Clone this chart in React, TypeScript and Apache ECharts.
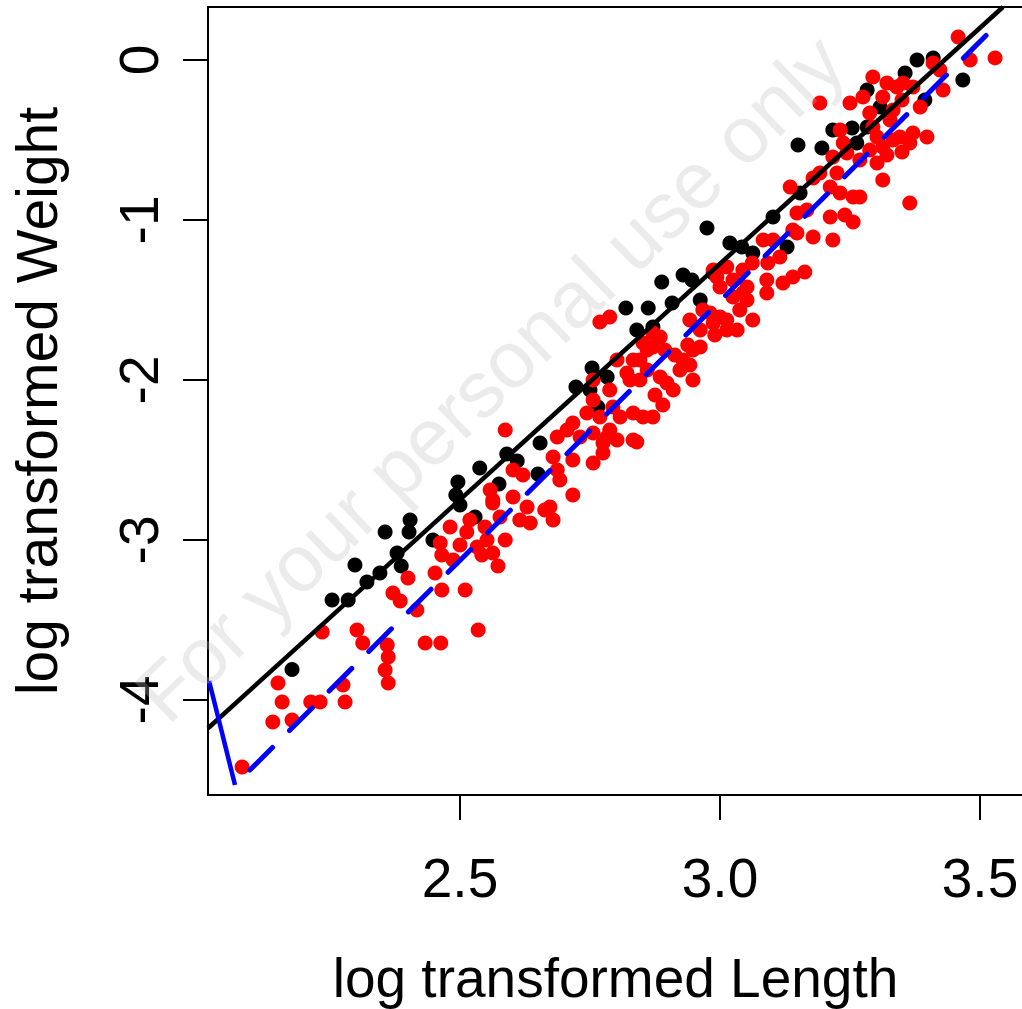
import React, { useEffect, useRef } from "react";
import * as echarts from "echarts";

// Axis extents and tick values
const xRange = [2.0154, 3.5827];
const yRange = [-4.594, 0.331];
const xTicks = [2.5, 3.0, 3.5];
const yTicks = [0, -1, -2, -3, -4];

// Black points (log Length, log Weight)
const blackPoints: [number, number][] = [
  [2.177, -3.81], [2.254, -3.375], [2.285, -3.375], [2.298, -3.156], [2.321, -3.263],
  [2.346, -3.206], [2.356, -2.95], [2.379, -3.081], [2.387, -3.163], [2.404, -2.875],
  [2.402, -2.95], [2.448, -3.0], [2.496, -2.638], [2.492, -2.719], [2.5, -2.781],
  [2.529, -2.856], [2.538, -2.55], [2.575, -2.65], [2.59, -2.463], [2.61, -2.506],
  [2.654, -2.394], [2.65, -2.588], [2.723, -2.044], [2.754, -1.925], [2.75, -2.063],
  [2.765, -2.169], [2.783, -1.981], [2.819, -1.55], [2.862, -1.55], [2.888, -1.388],
  [2.908, -1.519], [2.929, -1.344], [2.946, -1.375], [2.962, -1.5], [2.84, -1.688],
  [2.871, -1.669], [2.975, -1.05], [2.987, -1.331], [3.019, -1.144], [3.042, -1.169],
  [3.063, -1.206], [3.102, -0.981], [3.129, -1.169], [3.15, -0.531], [3.196, -0.55],
  [3.154, -0.831], [3.217, -0.438], [3.254, -0.425], [3.283, -0.419], [3.263, -0.519],
  [3.283, -0.188], [3.308, -0.294], [3.356, -0.081], [3.379, 0.0], [3.41, 0.013],
  [3.394, -0.25], [3.467, -0.125],
];

// Red points (log Length, log Weight)
const redPoints: [number, number][] = [
  [2.081, -4.419], [2.15, -3.894], [2.158, -4.013], [2.14, -4.138], [2.177, -4.125],
  [2.213, -4.013], [2.231, -4.013], [2.235, -3.575], [2.275, -3.906], [2.279, -4.013],
  [2.302, -3.563], [2.313, -3.644], [2.36, -3.656], [2.362, -3.731], [2.356, -3.813],
  [2.362, -3.894], [2.371, -3.331], [2.385, -3.381], [2.4, -3.238], [2.417, -3.438],
  [2.433, -3.644], [2.463, -3.644], [2.465, -3.313], [2.51, -3.313], [2.535, -3.563],
  [2.452, -3.206], [2.462, -3.019], [2.481, -2.919], [2.465, -3.094], [2.487, -3.125],
  [2.5, -3.031], [2.513, -2.95], [2.519, -2.875], [2.533, -3.044], [2.548, -2.919],
  [2.552, -3.0], [2.542, -3.094], [2.563, -3.081], [2.573, -3.163], [2.587, -3.0],
  [2.615, -2.875], [2.563, -2.75], [2.587, -2.313], [2.558, -2.688], [2.563, -2.769],
  [2.577, -2.856], [2.602, -2.731], [2.602, -2.563], [2.621, -2.594], [2.629, -2.794],
  [2.635, -2.894], [2.663, -2.813], [2.692, -2.625], [2.687, -2.563], [2.679, -2.481],
  [2.673, -2.794], [2.679, -2.875], [2.717, -2.719], [2.717, -2.5], [2.706, -2.313],
  [2.756, -2.331], [2.756, -2.519], [2.775, -2.394], [2.788, -2.313], [2.802, -2.375],
  [2.808, -2.231], [2.833, -2.206], [2.84, -2.388], [2.852, -2.231], [2.871, -2.231],
  [2.744, -2.206], [2.756, -2.125], [2.788, -2.063], [2.827, -2.0], [2.794, -2.169],
  [2.687, -2.356], [2.717, -2.269], [2.731, -2.356], [2.769, -2.231], [2.783, -2.356],
  [2.775, -2.456], [2.833, -2.375], [2.756, -2.0], [2.846, -2.0], [2.821, -1.956],
  [2.802, -1.875], [2.846, -1.875], [2.86, -1.813], [2.86, -1.938], [2.885, -1.981],
  [2.898, -2.019], [2.91, -2.063], [2.923, -1.938], [2.929, -1.875], [2.871, -1.794],
  [2.885, -1.731], [2.769, -1.638], [2.788, -1.606], [2.962, -1.794], [2.981, -1.581],
  [2.987, -1.644], [3.0, -1.606], [3.013, -1.688], [3.033, -1.688], [2.994, -1.356],
  [3.0, -1.419], [3.025, -1.375], [3.025, -1.481], [3.044, -1.313], [2.833, -1.875],
  [2.852, -1.769], [2.871, -1.706], [2.967, -1.563], [3.013, -1.625], [3.052, -1.5],
  [3.063, -1.625], [3.052, -1.419], [3.013, -1.294], [2.987, -1.313], [3.09, -1.375],
  [3.121, -1.394], [3.14, -1.356], [3.163, -1.325], [3.09, -1.456], [3.092, -1.269],
  [2.948, -1.813], [3.102, -1.125], [3.115, -1.231], [3.148, -1.081], [3.179, -1.106],
  [3.212, -0.981], [3.217, -1.125], [3.231, -0.831], [3.256, -0.856], [3.269, -0.856],
  [3.256, -1.013], [3.225, -0.706], [3.212, -0.794], [3.167, -0.938], [3.135, -0.794],
  [3.192, -0.706], [3.217, -0.606], [3.244, -0.581], [3.269, -0.625], [3.313, -0.75],
  [3.302, -0.644], [3.313, -0.544], [3.333, -0.5], [3.35, -0.575], [3.371, -0.456],
  [3.398, -0.481], [3.35, -0.25], [3.333, -0.313], [3.385, -0.294], [3.294, -0.419],
  [3.321, -0.144], [3.352, -0.144], [3.313, -0.231], [3.294, -0.106], [3.371, -0.169],
  [3.25, -0.269], [3.275, -0.231], [3.192, -0.269], [3.365, -0.894], [3.41, -0.019],
  [3.423, -0.063], [3.429, -0.188], [3.458, 0.144], [3.481, 0.0], [3.529, 0.013],
  [3.34, -0.169], [3.365, -0.519], [3.179, -0.738], [3.237, -0.519], [3.231, -0.438],
  [3.288, -0.331], [3.327, -0.375], [3.346, -0.481], [3.302, -0.481], [3.148, -0.956],
  [3.24, -0.969], [3.14, -1.063], [3.083, -1.125], [3.062, -1.269], [3.044, -1.456],
  [2.875, -2.094], [2.89, -2.156], [2.942, -1.906], [2.948, -2.0], [2.913, -1.844],
  [2.894, -1.813], [2.938, -1.781], [2.962, -1.688], [2.99, -1.719], [2.942, -1.625],
  [3.038, -1.563], [3.321, -0.594], [3.288, -0.563],
];

// Fitted lines (endpoints in data units)
const blackFitLine: [number, number][] = [[2.0154, -4.177], [3.5442, 0.331]];
const blueSolidLine: [number, number][] = [[2.0175, -3.882], [2.0673, -4.531]];
const blueDashedLine: [number, number][] = [[2.0673, -4.531], [3.5321, 0.219]];

const FONT = '"Liberation Sans", Arial, Helvetica, sans-serif';

export default function App() {
  const ref = useRef<HTMLDivElement>(null);
  useEffect(() => {
    if (!ref.current) return;
    const chart = echarts.init(ref.current, null, { renderer: "svg" });
    chart.setOption({
      animation: false,
      backgroundColor: "#ffffff",
      grid: {
        left: 208,
        top: 7,
        width: 815,
        height: 788,
        show: true,
        borderColor: "#000",
        borderWidth: 2,
        backgroundColor: "transparent",
        containLabel: false,
        outerBoundsMode: "none",
      },
      xAxis: {
        type: "value",
        min: xRange[0],
        max: xRange[1],
        name: "log transformed Length",
        nameLocation: "middle",
        nameGap: 155,
        nameTextStyle: { fontFamily: FONT, fontSize: 55, color: "#000" },
        axisLine: { show: true, onZero: false, lineStyle: { color: "#000", width: 2 } },
        axisTick: { show: true, inside: false, length: 25, customValues: xTicks, lineStyle: { color: "#000", width: 2 } },
        axisLabel: {
          customValues: xTicks,
          margin: 55,
          fontFamily: FONT,
          fontSize: 55,
          color: "#000",
          formatter: (v: number) => v.toFixed(1),
        },
        splitLine: { show: false },
      },
      yAxis: {
        type: "value",
        min: yRange[0],
        max: yRange[1],
        name: "log transformed Weight",
        nameLocation: "middle",
        nameRotate: 90,
        nameGap: 143,
        nameTextStyle: { fontFamily: FONT, fontSize: 57, color: "#000" },
        axisLine: { show: true, onZero: false, lineStyle: { color: "#000", width: 2 } },
        axisTick: { show: true, inside: false, length: 25, customValues: yTicks, lineStyle: { color: "#000", width: 2 } },
        axisLabel: {
          customValues: yTicks,
          rotate: 90,
          margin: 42,
          fontFamily: FONT,
          fontSize: 55,
          color: "#000",
          formatter: (v: number) => String(Math.round(v)),
        },
        splitLine: { show: false },
      },
      series: [
        {
          type: "scatter",
          data: blackPoints,
          symbol: "circle",
          symbolSize: 15,
          itemStyle: { color: "#000000", opacity: 1 },
          silent: true,
          z: 2,
        },
        {
          type: "scatter",
          data: redPoints,
          symbol: "circle",
          symbolSize: 15,
          itemStyle: { color: "#ff0000", opacity: 1 },
          silent: true,
          z: 3,
        },
        {
          type: "line",
          data: blackFitLine,
          showSymbol: false,
          symbol: "none",
          lineStyle: { color: "#000000", width: 4.5 },
          silent: true,
          z: 4,
        },
        {
          type: "line",
          data: blueSolidLine,
          showSymbol: false,
          symbol: "none",
          lineStyle: { color: "#0000ff", width: 4.5, cap: "butt" },
          silent: true,
          z: 5,
        },
        {
          type: "line",
          data: blueDashedLine,
          showSymbol: false,
          symbol: "none",
          lineStyle: { color: "#0000ff", width: 5, type: [32, 24], dashOffset: 35, cap: "round" },
          silent: true,
          z: 5,
        },
      ],
      graphic: [
        {
          type: "text",
          x: 490,
          y: 378,
          rotation: 0.767,
          z: 100,
          silent: true,
          style: {
            text: "For your personal use only",
            font: `80px ${FONT}`,
            fill: "rgba(190,190,190,0.3)",
            align: "center",
            verticalAlign: "middle",
            textAlign: "center",
            textVerticalAlign: "middle",
          },
        },
      ],
    });
    return () => chart.dispose();
  }, []);
  return (
    <div
      ref={ref}
      style={{ position: "fixed", left: 0, top: 0, width: 1022, height: 1009, background: "#fff" }}
    />
  );
}
